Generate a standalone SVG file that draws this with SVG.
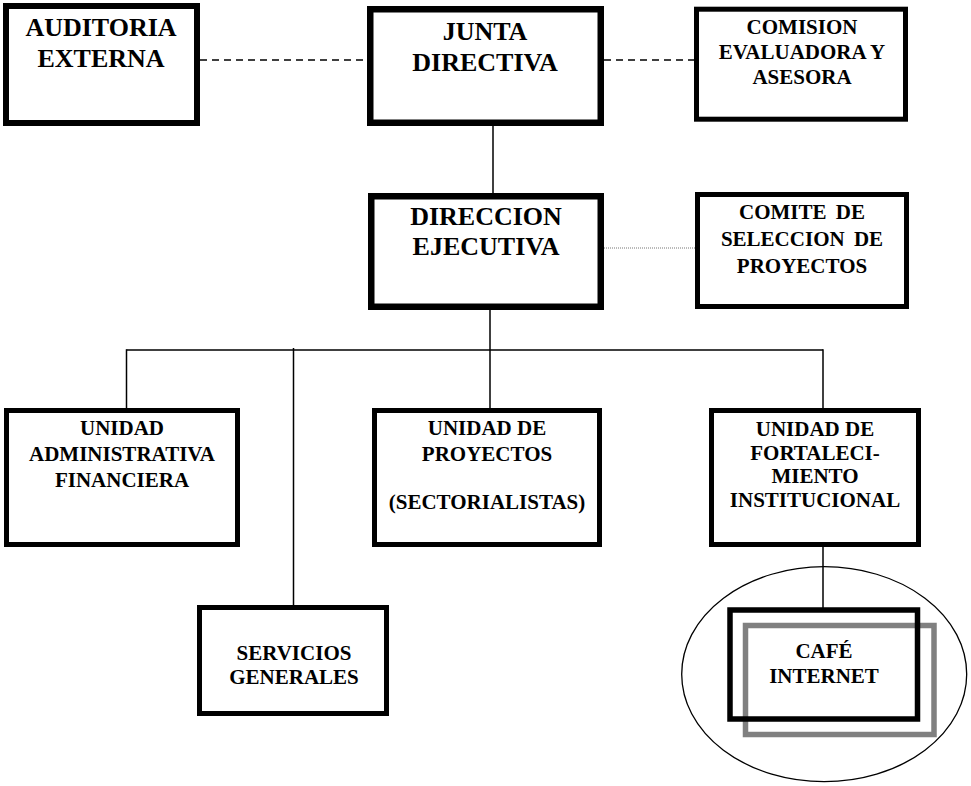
<svg xmlns="http://www.w3.org/2000/svg" width="971" height="786" viewBox="0 0 971 786">
<style>
.box{fill:none;stroke:#000;}
text{font-family:'Liberation Serif','Times New Roman','DejaVu Serif',serif;font-weight:bold;text-anchor:middle;fill:#000;}
.big{font-size:26px;}
.t{font-size:21px;}
.ln{stroke:#000;stroke-width:1.5;fill:none;}
.dash{stroke:#000;stroke-width:1.5;stroke-dasharray:7 5;fill:none;}
.dot{stroke:#777;stroke-width:1;stroke-dasharray:1 1;fill:none;}
</style>
<rect width="971" height="786" fill="#fff"/>
<g id="connectors">
<line class="dash" x1="200" y1="60" x2="367" y2="60"/>
<line class="dash" x1="604" y1="60" x2="694" y2="60"/>
<line class="ln" x1="493" y1="126" x2="493" y2="193"/>
<line class="dot" x1="604" y1="248" x2="695" y2="248"/>
<line class="ln" x1="490" y1="310" x2="490" y2="408"/>
<line class="ln" x1="126.5" y1="350" x2="823" y2="350"/>
<line class="ln" x1="126.5" y1="349.25" x2="126.5" y2="408"/>
<line class="ln" x1="293.5" y1="348" x2="293.5" y2="610"/>
<line class="ln" x1="823" y1="349.25" x2="823" y2="408"/>
<line class="ln" x1="823" y1="547" x2="823" y2="612"/>
</g>
<g id="auditoria">
<rect class="box" x="6" y="6" width="191" height="117" stroke-width="6"/>
<text class="big" x="101" y="36">AUDITORIA</text>
<text class="big" x="101" y="67">EXTERNA</text>
</g>
<g id="junta">
<rect class="box" x="370.25" y="9.25" width="230.5" height="113.5" stroke-width="6.5"/>
<text class="big" x="485" y="40">JUNTA</text>
<text class="big" x="485" y="71">DIRECTIVA</text>
</g>
<g id="comision">
<rect class="box" x="696.5" y="9.2" width="209" height="110" stroke-width="5"/>
<text class="t" x="802" y="34">COMISION</text>
<text class="t" x="802" y="59">EVALUADORA Y</text>
<text class="t" x="802" y="84">ASESORA</text>
</g>
<g id="direccion">
<rect class="box" x="371.25" y="196.25" width="229.5" height="110.5" stroke-width="6.5"/>
<text class="big" x="486" y="225">DIRECCION</text>
<text class="big" x="486" y="255">EJECUTIVA</text>
</g>
<g id="comite">
<rect class="box" x="697.5" y="194.5" width="209" height="112" stroke-width="5"/>
<text class="t" x="802" y="219" word-spacing="4">COMITE DE</text>
<text class="t" x="802" y="246" word-spacing="4">SELECCION DE</text>
<text class="t" x="802" y="273">PROYECTOS</text>
</g>
<g id="unidad-admin">
<rect class="box" x="6.5" y="410.5" width="231" height="134" stroke-width="5"/>
<text class="t" x="122" y="435">UNIDAD</text>
<text class="t" x="122" y="461">ADMINISTRATIVA</text>
<text class="t" x="122" y="487">FINANCIERA</text>
</g>
<g id="unidad-proyectos">
<rect class="box" x="374.5" y="410.5" width="225" height="134" stroke-width="5"/>
<text class="t" x="487" y="435">UNIDAD DE</text>
<text class="t" x="487" y="461">PROYECTOS</text>
<text class="t" x="487" y="509">(SECTORIALISTAS)</text>
</g>
<g id="unidad-fortalecimiento">
<rect class="box" x="711.5" y="410.5" width="207" height="134" stroke-width="5"/>
<text class="t" x="815" y="436">UNIDAD DE</text>
<text class="t" x="815" y="460">FORTALECI-</text>
<text class="t" x="815" y="483">MIENTO</text>
<text class="t" x="815" y="507">INSTITUCIONAL</text>
</g>
<g id="servicios">
<rect class="box" x="199.5" y="607.5" width="187" height="106" stroke-width="5"/>
<text class="t" x="294" y="660">SERVICIOS</text>
<text class="t" x="294" y="684">GENERALES</text>
</g>
<g id="cafe">
<ellipse cx="824.2" cy="674.2" rx="142.5" ry="107.5" fill="none" stroke="#000" stroke-width="1.3"/>
<rect x="745.5" y="625.5" width="188.5" height="109" fill="none" stroke="#808080" stroke-width="5.5"/>
<rect class="box" x="730" y="610" width="187.5" height="109" stroke-width="5.5"/>
<text class="t" x="824" y="658">CAFÉ</text>
<text class="t" x="824" y="683">INTERNET</text>
</g>
</svg>
